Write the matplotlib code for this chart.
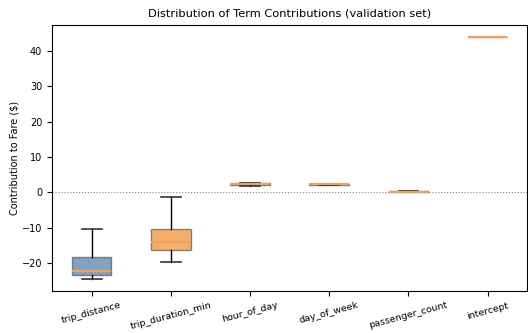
import matplotlib
matplotlib.use("Agg")
import matplotlib.pyplot as plt

terms = ["trip_distance", "trip_duration_min", "hour_of_day",
         "day_of_week", "passenger_count", "intercept"]
whislo = [-24.5, -19.8, 1.9, 2.0, 0.1, 43.9]
q1 = [-23.5, -16.3, 2.0, 2.1, 0.15, 43.9]
med = [-22.3, -14.0, 2.3, 2.25, 0.2, 43.9]
q3 = [-18.3, -10.3, 2.6, 2.4, 0.25, 43.9]
whishi = [-10.3, -1.3, 2.7, 2.45, 0.3, 43.9]
colors = ["#4E79A7", "#F28E2B", "#E15759", "#76B7B2", "#59A14F", "#EDC948"]

stats = []
for i, t in enumerate(terms):
    stats.append(dict(label=t, whislo=whislo[i], q1=q1[i], med=med[i],
                      q3=q3[i], whishi=whishi[i], fliers=[]))

fig = plt.figure(figsize=(5.28, 3.33), dpi=100)
ax = fig.add_axes([0.0985, 0.126, 0.9, 0.799])

bp = ax.bxp(stats, patch_artist=True, widths=0.5, showfliers=False,
            medianprops=dict(color="#F5A05A", linewidth=1.5, zorder=5),
            capprops=dict(color="#333333", linewidth=1.2),
            whiskerprops=dict(color="black", linewidth=1.0))
for patch, c in zip(bp["boxes"], colors):
    patch.set_facecolor(c)
    patch.set_edgecolor("#555555")
    patch.set_alpha(0.7)

ax.axhline(0, color="gray", linestyle=":", linewidth=0.8)
ax.set_ylabel("Contribution to Fare ($)", fontsize=7, labelpad=2)
ax.set_title("Distribution of Term Contributions (validation set)", fontsize=8.2)
ax.tick_params(axis="both", labelsize=7)
plt.setp(ax.get_xticklabels(), rotation=15, fontsize=6.8)

fig.savefig("out.png", dpi=100)
